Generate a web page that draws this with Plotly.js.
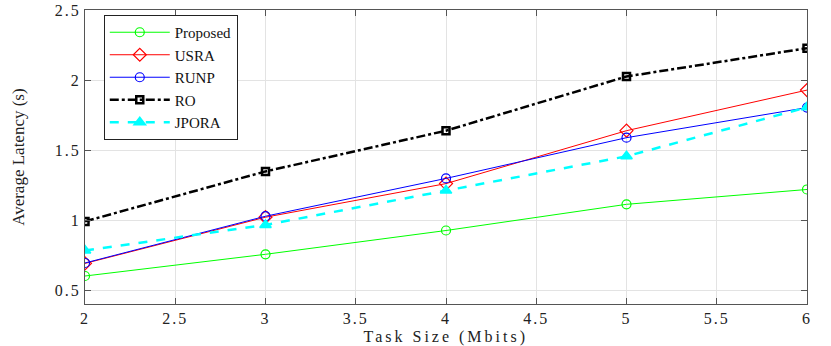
<!DOCTYPE html>
<html><head><meta charset="utf-8">
<script src="https://cdn.plot.ly/plotly-3.0.1.min.js"></script>
<style>
body{margin:0;background:#fff}#c{width:831px;height:346px}
#c .xtick text,#c .ytick text{letter-spacing:2px;font-family:'Liberation Serif' !important}
#c .xt text{letter-spacing:3px}
</style>
</head><body><div id="c"></div>
<script>
var taskSize = [2, 3, 4, 5, 6];
var proposed = [0.60, 0.755, 0.925, 1.112, 1.218];
var usra     = [0.69, 1.02, 1.26, 1.638, 1.928];
var runp     = [0.693, 1.027, 1.297, 1.588, 1.803];
var ro       = [0.99, 1.347, 1.638, 2.025, 2.227];
var jpora    = [0.782, 0.965, 1.21, 1.455, 1.805];
var names = ['Proposed','USRA','RUNP','RO','JPORA'];
var xTickVals = [2, 2.5, 3, 3.5, 4, 4.5, 5, 5.5, 6];
var xTickText = ['2','2.5','3','3.5','4','4.5','5','5.5','6'];
var yTickVals = [0.5, 1, 1.5, 2, 2.5];
var yTickText = ['0.5','1','1.5','2','2.5'];

var font = 'Liberation Serif';
var traces = [
 {x:taskSize,y:proposed,name:names[0],mode:'lines+markers',line:{color:'#00ff00',width:1},marker:{symbol:'circle-open',size:9,color:'#00ff00',line:{width:1.2}}},
 {x:taskSize,y:usra,name:names[1],mode:'lines+markers',line:{color:'#ff0000',width:1},marker:{symbol:'diamond-open',size:10,color:'#ff0000',line:{width:1.2}}},
 {x:taskSize,y:runp,name:names[2],mode:'lines+markers',line:{color:'#0000ff',width:1},marker:{symbol:'circle-open',size:9,color:'#0000ff',line:{width:1.2}}},
 {x:taskSize,y:ro,name:names[3],mode:'lines+markers',line:{color:'#000000',width:2.5,dash:'dashdot'},marker:{symbol:'square-open',size:7,color:'#000000',line:{width:2.5}}},
 {x:taskSize,y:jpora,name:names[4],mode:'lines+markers',line:{color:'#00ffff',width:2.5,dash:'dash'},marker:{symbol:'triangle-up',size:10,color:'#00ffff',line:{width:1.5,color:'#00ffff'}}}
];
function axis(extra){
  return Object.assign({showline:true,linecolor:'#555',linewidth:1,mirror:'ticks',ticks:'inside',ticklen:6,tickcolor:'#555',
    showgrid:true,gridcolor:'#e3e3e3',gridwidth:1,zeroline:false,tickfont:{family:font,size:16,color:'#222'}},extra);
}
var layout = {
  width:831,height:346,margin:{l:85,r:24,t:10,b:42},paper_bgcolor:'#fff',plot_bgcolor:'#fff',
  font:{family:font},
  xaxis:axis({range:[2,6],tickvals:xTickVals,ticktext:xTickText}),
  yaxis:axis({range:[0.4,2.5],tickvals:yTickVals,ticktext:yTickText}),
  annotations:[
    {text:'Task Size (Mbits)',xref:'paper',yref:'paper',x:0.5,y:-0.112,xanchor:'center',yanchor:'middle',showarrow:false,
     font:{family:font,size:16,color:'#222'}},
    {text:'Average Latency (s)',xref:'paper',yref:'paper',x:-0.093,y:0.5,xanchor:'center',yanchor:'middle',showarrow:false,textangle:-90,
     font:{family:font,size:17,color:'#222'}}
  ],
  legend:{x:0.026,y:0.983,xanchor:'left',yanchor:'top',bgcolor:'#fff',bordercolor:'#222',borderwidth:1,
    font:{family:font,size:15,color:'#111'},tracegroupgap:0,itemwidth:60},
  showlegend:true
};
Plotly.newPlot('c',traces,layout,{displayModeBar:false,staticPlot:true}).then(function(){
  var a=document.querySelectorAll('#c .annotation')[0]; if(a) a.classList.add('xt');
});
</script></body></html>
